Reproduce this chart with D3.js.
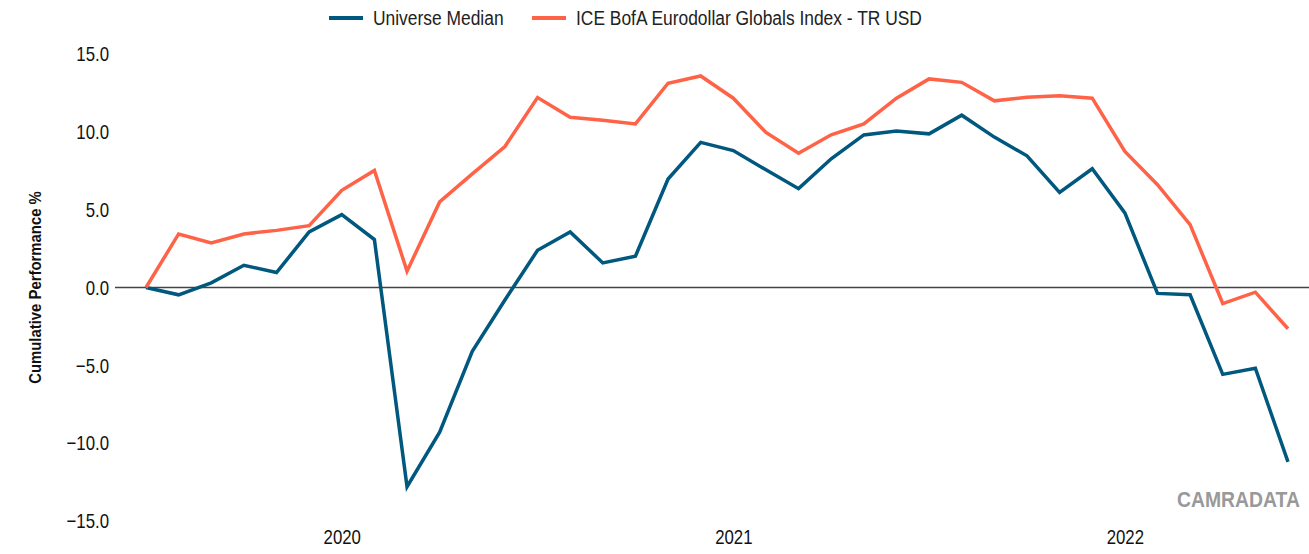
<!DOCTYPE html>
<html>
<head>
<meta charset="utf-8">
<script src="https://cdn.jsdelivr.net/npm/d3@7"></script>
<style>
  body { margin: 0; background: #fff; }
  svg text { font-family: "Liberation Sans", Arial, sans-serif; }
</style>
</head>
<body>
<svg id="canvas"></svg>
<script>
// monthly points, Jul 2019 - Jun 2022
const months = ["2019-07","2019-08","2019-09","2019-10","2019-11","2019-12",
  "2020-01","2020-02","2020-03","2020-04","2020-05","2020-06",
  "2020-07","2020-08","2020-09","2020-10","2020-11","2020-12",
  "2021-01","2021-02","2021-03","2021-04","2021-05","2021-06",
  "2021-07","2021-08","2021-09","2021-10","2021-11","2021-12",
  "2022-01","2022-02","2022-03","2022-04","2022-05","2022-06"];

const universeMedian = [0.0, -0.47, 0.3, 1.43, 0.96, 3.57,
  4.68, 3.08, -12.8, -9.3, -4.1, -0.8,
  2.39, 3.57, 1.58, 2.01, 6.97, 9.32,
  8.8, 7.56, 6.35, 8.27, 9.8, 10.06,
  9.87, 11.07, 9.66, 8.46, 6.11, 7.63,
  4.79, -0.38, -0.47, -5.58, -5.19, -11.2];

const iceIndex = [0.0, 3.44, 2.86, 3.44, 3.67, 3.97,
  6.24, 7.52, 1.05, 5.5, 7.3, 9.06,
  12.2, 10.94, 10.75, 10.51, 13.12, 13.59,
  12.16, 9.96, 8.63, 9.81, 10.51, 12.16,
  13.4, 13.18, 11.99, 12.22, 12.31, 12.16,
  8.74, 6.6, 4.04, -1.03, -0.3, -2.65];

const yTicks = [-15, -10, -5, 0, 5, 10, 15];
const seriesNames = ["Universe Median", "ICE BofA Eurodollar Globals Index - TR USD"];
const colors = ["#00587f", "#ff6347"];

const width = 1309;
const height = 554;

// squeeze regular text to look like the narrow font of the original
function narrow(sel, f) {
  sel.each(function() {
    const w = this.getComputedTextLength();
    d3.select(this)
      .attr("textLength", w * f)
      .attr("lengthAdjust", "spacingAndGlyphs");
  });
}

const svg = d3.select("#canvas")
  .attr("width", width)
  .attr("height", height);

const x = d3.scalePoint()
  .domain(months)
  .range([146, 1288]);

const y = d3.scaleLinear()
  .domain([-15, 15])
  .range([521, 54]);

// y axis
const yAxis = d3.axisLeft(y)
  .tickValues(yTicks)
  .tickFormat(d3.format(".1f"))
  .tickSize(0)
  .tickPadding(6);

const yG = svg.append("g")
  .attr("transform", "translate(115,0)")
  .call(yAxis);
yG.select(".domain").remove();
yG.selectAll("text")
  .attr("font-size", 21)
  .attr("fill", "#111")
  .call(narrow, 0.8);

// x axis - only year labels at January
const xAxis = d3.axisBottom(x)
  .tickValues(months.filter(m => m.endsWith("-01")))
  .tickFormat(m => m.slice(0, 4))
  .tickSize(0)
  .tickPadding(8);

const xG = svg.append("g")
  .attr("transform", `translate(0,${y(-15)})`)
  .call(xAxis);
xG.select(".domain").remove();
xG.selectAll("text")
  .attr("font-size", 21)
  .attr("fill", "#111")
  .call(narrow, 0.8);

// zero line
svg.append("line")
  .attr("x1", 115)
  .attr("x2", width)
  .attr("y1", y(0))
  .attr("y2", y(0))
  .attr("stroke", "#444")
  .attr("stroke-width", 1.5);

// y label
svg.append("text")
  .attr("transform", `translate(41,${y(0)}) rotate(-90)`)
  .attr("text-anchor", "middle")
  .attr("font-weight", "bold")
  .attr("font-size", 16)
  .attr("fill", "#111")
  .text("Cumulative Performance %")
  .call(narrow, 0.93);

// watermark
svg.append("text")
  .attr("transform", "translate(1177,507) scale(0.88,1)")
  .attr("font-weight", "bold")
  .attr("font-size", 22)
  .attr("fill", "#999")
  .text("CAMRADATA");

// lines
const line = d3.line()
  .x((d, i) => x(months[i]))
  .y(d => y(d));

[universeMedian, iceIndex].forEach((vals, k) => {
  svg.append("path")
    .datum(vals)
    .attr("d", line)
    .attr("fill", "none")
    .attr("stroke", colors[k])
    .attr("stroke-width", 3.5)
    .attr("stroke-linejoin", "miter");
});

// legend
const legendX = [329, 532];
seriesNames.forEach((name, k) => {
  const g = svg.append("g").attr("transform", `translate(${legendX[k]},18)`);
  g.append("line")
    .attr("x1", 0).attr("x2", 34)
    .attr("y1", 0).attr("y2", 0)
    .attr("stroke", colors[k])
    .attr("stroke-width", 4);
  g.append("text")
    .attr("x", 44)
    .attr("y", 0)
    .attr("dy", "0.35em")
    .attr("font-size", 20)
    .attr("fill", "#222")
    .text(name)
    .call(narrow, 0.87);
});
</script>
</body>
</html>
